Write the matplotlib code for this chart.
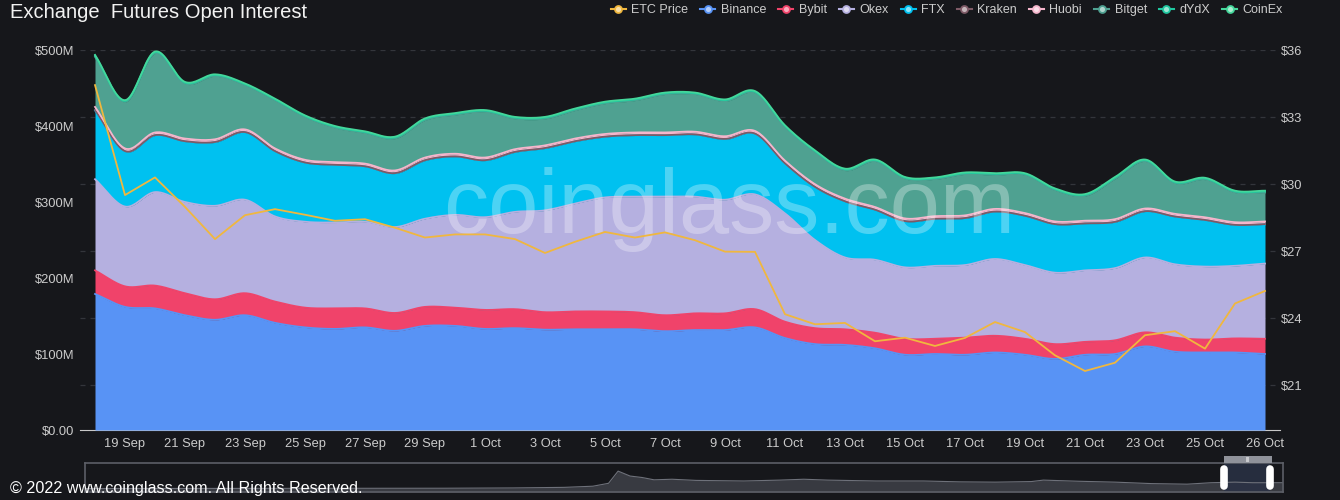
"""
Exchange Futures Open Interest (ETC) - recreated coinglass chart.
Stacked smooth areas per exchange (left axis) + ETC price line (right axis).
"""
import matplotlib
matplotlib.use("Agg")  # headless
import matplotlib.pyplot as plt
import numpy as np
import pandas as pd
from matplotlib.lines import Line2D
from matplotlib.patches import Rectangle

plt.rcParams["font.family"] = ["Liberation Sans", "DejaVu Sans"]

BG = "#16171b"
TXT = "#cccccc"

# ---- data (values in $M, daily from 18 Sep, last point = live 26 Oct) ----
dates = [f"{d.day} {d:%b}" for d in pd.date_range("2022-09-18", "2022-10-26")] + ["26 Oct"]

binance = [179, 162, 160, 151, 145, 151, 141, 135, 133, 135, 130.5, 137, 137, 133, 134, 132,
           132.5, 132.5, 132.5, 130, 131.5, 131.5, 135, 121, 113, 112, 107.5, 99, 100, 99,
           102, 99, 93.5, 99, 100, 110, 103, 102, 102, 100]
bybit = [31, 27, 30, 29, 27, 29, 28, 26, 27, 25, 23.5, 25, 24, 25, 25, 23, 23.5, 23.5, 22.5, 21,
         22, 22, 24, 21.5, 21, 20.5, 20.5, 21, 20, 22.5, 22, 21, 19.5, 17, 18, 18.5, 18.5, 17,
         18.5, 20]
okex = [120, 105, 123, 120, 123, 123, 112, 113, 113, 114, 113, 116, 122, 122, 128, 134, 142, 150,
        152, 156, 153.5, 149.5, 151, 142.5, 116, 94.5, 96, 94, 96, 95.5, 101, 97, 94, 94, 95,
        98.5, 96.5, 96, 95.5, 99]
ftx = [90.5, 72.5, 74.5, 79.5, 83.5, 88.5, 85.5, 77.5, 75.5, 72.5, 70.5, 76.5, 76.5, 74.5, 78.5,
       81.5, 81.5, 79.5, 80.5, 80.5, 81.5, 79.5, 79.5, 65.5, 69.5, 73.5, 65.5, 60.5, 61.5, 61.5,
       62, 64.5, 63.5, 61.5, 60.5, 60.5, 62.5, 61, 53.5, 51.5]
kraken = [0.6, 0.5, 0.5, 0.5, 0.5, 0.5, 0.5, 0.5, 0.5, 0.5, 0.5, 0.5, 0.5, 0.5, 0.5, 0.5, 0.5,
          0.5, 0.5, 0.5, 0.5, 0.5, 0.5, 0.4, 0.4, 0.4, 0.4, 0.4, 0.4, 0.4, 0.4, 0.4, 0.4, 0.4,
          0.4, 0.4, 0.4, 0.4, 0.4, 0.4]
huobi = [4, 3.5, 3.5, 3.5, 3.5, 3.5, 3.5, 3.5, 3.5, 3.5, 3.5, 3.5, 3.5, 3.5, 3.5, 3.5, 3.5, 3.5,
         3.5, 3.5, 3.5, 3.5, 3.5, 3.5, 3.5, 3.5, 3.5, 3.5, 3.5, 3.5, 3.5, 3.5, 3.5, 3.5, 3.5,
         3.5, 3.5, 3.5, 3.5, 3.5]
bitget = [66, 61, 104, 72, 83, 58, 63, 56, 45, 40, 42, 49, 51, 60, 40, 35, 37, 40, 42, 50, 49,
          46, 50, 44, 42, 37, 60, 52, 48.5, 54, 44.5, 50, 41, 32.5, 53, 62, 40, 49.5, 39, 38]
dydx = [1.5] * 40
coinex = [1.0] * 40

etc_price = [34.43, 29.51, 30.30, 28.98, 27.54, 28.61, 28.88, 28.63, 28.36, 28.43, 28.05, 27.61,
             27.75, 27.75, 27.54, 26.92, 27.42, 27.86, 27.61, 27.84, 27.49, 26.98, 26.97, 24.18,
             23.73, 23.79, 22.97, 23.13, 22.76, 23.12, 23.83, 23.38, 22.34, 21.64, 22.01, 23.24,
             23.42, 22.64, 24.66, 25.22]

# long-run history shown in the datazoom slider (relative level)
slider_t = [0.0, 0.3, 0.357, 0.40, 0.424, 0.437, 0.445, 0.455, 0.465, 0.475, 0.49, 0.51, 0.55,
            0.58, 0.60, 0.62, 0.66, 0.70, 0.73, 0.76, 0.79, 0.80, 0.83, 0.86, 0.89, 0.92, 0.94,
            0.96, 0.975, 1.0]
slider_v = [0.12, 0.13, 0.14, 0.16, 0.2, 0.30, 0.72, 0.55, 0.5, 0.42, 0.44, 0.40, 0.38, 0.41,
            0.44, 0.41, 0.38, 0.38, 0.35, 0.34, 0.36, 0.41, 0.37, 0.34, 0.29, 0.27, 0.32, 0.34,
            0.32, 0.32]

stack = [
    ("Binance", binance, "#5893f5"),
    ("Bybit", bybit, "#f0436a"),
    ("Okex", okex, "#b5b0e0"),
    ("FTX", ftx, "#00c1f0"),
    ("Kraken", kraken, "#7e5a66"),
    ("Huobi", huobi, "#f5b6cc"),
    ("Bitget", bitget, "#4fa191"),
    ("dYdX", dydx, "#1fc7a0"),
    ("CoinEx", coinex, "#44d79b"),
]
PRICE_COL = "#f0b73e"

N_SUB = 20


def smooth(y, n=N_SUB):
    # cubic hermite through the points (catmull-rom tangents), like echarts smooth:true
    y = np.asarray(y, float)
    m = np.gradient(y)
    t = np.linspace(0, 1, n, endpoint=False)
    h00 = 2 * t**3 - 3 * t**2 + 1
    h10 = t**3 - 2 * t**2 + t
    h01 = -2 * t**3 + 3 * t**2
    h11 = t**3 - t**2
    seg = [h00 * y[i] + h10 * m[i] + h01 * y[i + 1] + h11 * m[i + 1] for i in range(len(y) - 1)]
    return np.concatenate(seg + [y[-1:]])


W, H = 1340, 500
fig = plt.figure(figsize=(W / 100, H / 100), dpi=100, facecolor=BG)

rect = [80 / W, 70 / H, 1200 / W, 380 / H]
ax_g = fig.add_axes(rect)        # price scale: grid + right labels
ax = ax_g.twinx()                # open interest areas
ax_p = ax_g.twinx()              # price line on top

x = np.arange(len(dates))
xs = np.linspace(0, len(dates) - 1, (len(dates) - 1) * N_SUB + 1)

cum = np.zeros(len(dates))
for name, vals, col in stack:
    top = cum + np.asarray(vals, float)
    lo, hi = smooth(cum), smooth(top)
    ax.fill_between(xs, lo, hi, color=col, lw=0, zorder=2)
    ax.plot(xs, hi, color=col, lw=1.3, zorder=3)
    cum = top

ax_p.plot(x, etc_price, color=PRICE_COL, lw=1.3)

# watermark
ax.text(729 / W, 1 - 233 / H, "coinglass.com", transform=fig.transFigure, ha="center",
        va="baseline", fontsize=65, color="white", alpha=0.3, zorder=5)

for a in (ax_g, ax, ax_p):
    a.set_xlim(-0.5, len(dates) - 0.5)
    a.set_facecolor("none")
    for s in a.spines.values():
        s.set_visible(False)

ax_g.set_ylim(19, 36)
ax_p.set_ylim(19, 36)
ax.set_ylim(0, 500)

ax_g.yaxis.tick_right()
ax_g.set_yticks([21, 24, 27, 30, 33, 36])
ax_g.set_yticklabels([f"${v}" for v in [21, 24, 27, 30, 33, 36]])
ax_g.grid(axis="y", color="#33353b", lw=0.9, ls=(0, (4, 4)))
ax_g.tick_params(axis="y", length=0, pad=1, labelsize=9.3, labelcolor=TXT)
ax_g.spines["bottom"].set_visible(True)
ax_g.spines["bottom"].set_color("#c8c8c8")

tick_idx = list(range(1, len(dates) - 1, 2)) + [len(dates) - 1]
ax_g.set_xticks(tick_idx)
ax_g.set_xticklabels([dates[i] for i in tick_idx])
ax_g.tick_params(axis="x", length=0, pad=6, labelsize=9.3, labelcolor=TXT)

ax.yaxis.tick_left()
ax.set_yticks([0, 100, 200, 300, 400, 500])
ax.set_yticklabels(["$0.00"] + [f"${v}M" for v in [100, 200, 300, 400, 500]])
ax.tick_params(axis="y", length=0, pad=4, labelsize=9.3, labelcolor=TXT)
ax.tick_params(axis="x", bottom=False, labelbottom=False)

ax_p.set_yticks([])
ax_p.tick_params(axis="x", bottom=False, labelbottom=False)

# title + legend
fig.text(10 / W, 1 - 12 / H, "Exchange  Futures Open Interest", fontsize=14.5, color="#f2f2f2",
         va="center", ha="left")


def light(c, f=0.55):
    r, g, b = matplotlib.colors.to_rgb(c)
    return (r + (1 - r) * f, g + (1 - g) * f, b + (1 - b) * f)


handles = [Line2D([], [], color=PRICE_COL, lw=1.5, marker="o", ms=5, mew=1.3,
                  mfc=light(PRICE_COL), label="ETC Price")]
handles += [Line2D([], [], color=c, lw=1.5, marker="o", ms=5, mew=1.3, mfc=light(c), label=n)
            for n, _, c in stack]
fig.legend(handles=handles, loc="upper right", bbox_to_anchor=(1283 / W, 1 - 4 / H), ncol=10,
           frameon=False, fontsize=9, labelcolor=TXT, handlelength=1.2, handletextpad=0.45,
           columnspacing=0.95, borderpad=0, borderaxespad=0)

# datazoom slider
ax_s = fig.add_axes([85 / W, 1 - 492 / H, 1198 / W, 29 / H])
ax_s.set_facecolor("none")
ax_s.set_xlim(0, 1)
ax_s.set_ylim(0, 1)
ax_s.set_xticks([])
ax_s.set_yticks([])
for s in ax_s.spines.values():
    s.set_color("#5c5f67")
    s.set_linewidth(1.2)
ax_s.fill_between(slider_t, 0, slider_v, color="#383a41", lw=0)
ax_s.plot(slider_t, slider_v, color="#6e717a", lw=0.8)
ax_s.add_patch(Rectangle((0.951, 0), 0.038, 1, color="#2a3145", alpha=0.85, lw=0))
for hx in (0.951, 0.989):
    ax_s.plot([hx, hx], [0.22, 0.78], color="white", lw=5.5, solid_capstyle="round")
fig.patches.append(Rectangle((1224 / W, 1 - 463 / H), 48 / W, 7 / H, transform=fig.transFigure,
                             color="#8f929a", lw=0))
fig.text(1248 / W, 1 - 459.5 / H, "|||", fontsize=4, color="white", ha="center", va="center")

fig.text(10 / W, 1 - 488 / H, "\u00a9 2022 www.coinglass.com. All Rights Reserved.", fontsize=11.6,
         color="white", ha="left", va="center")

fig.savefig("out.png", dpi=100, facecolor=BG)
